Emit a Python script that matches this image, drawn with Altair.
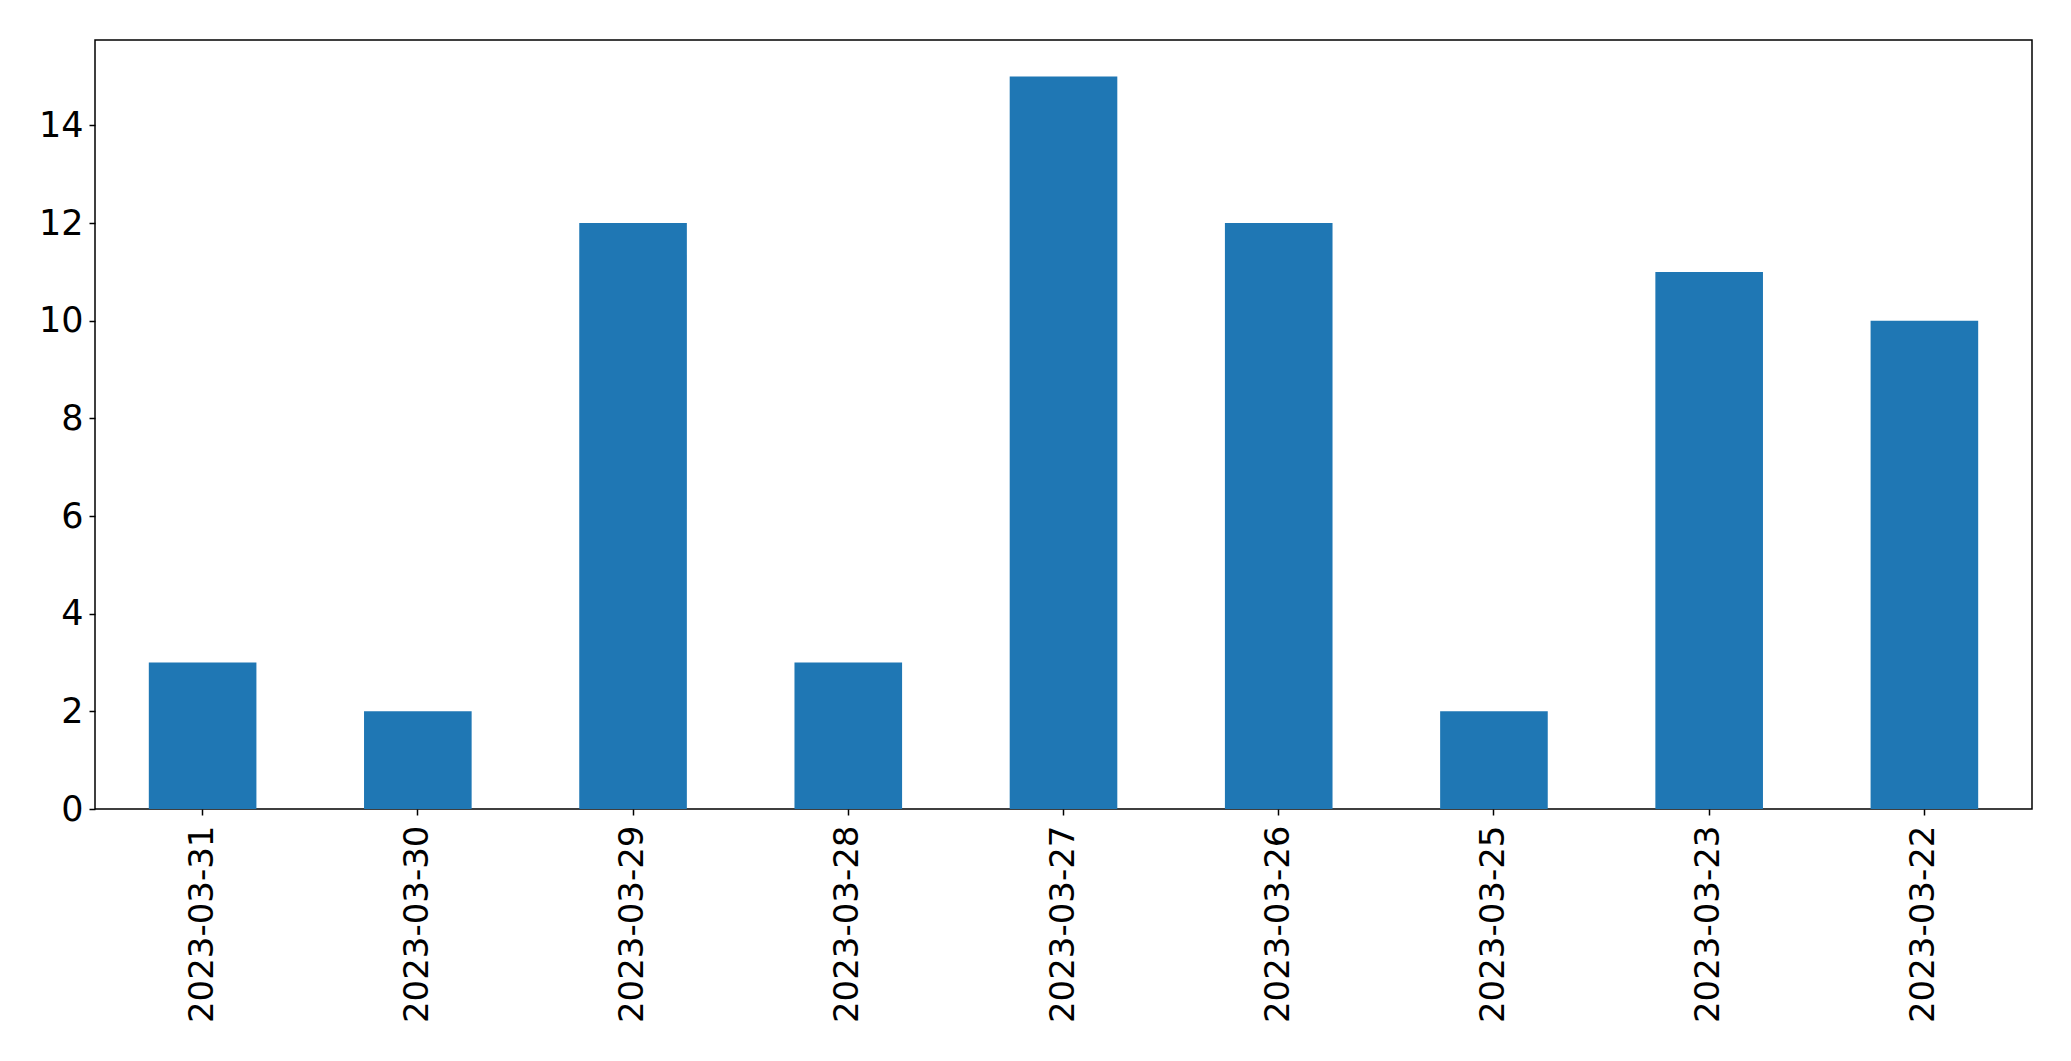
import altair as alt
import pandas as pd

dates = ["2023-03-31", "2023-03-30", "2023-03-29", "2023-03-28", "2023-03-27",
         "2023-03-26", "2023-03-25", "2023-03-23", "2023-03-22"]
counts = [3, 2, 12, 3, 15, 12, 2, 11, 10]
y_ticks = [0, 2, 4, 6, 8, 10, 12, 14]

df = pd.DataFrame({"date": dates, "count": counts})

FONT = "DejaVu Sans"

chart = alt.Chart(df).mark_bar(color="#1f77b4").encode(
    x=alt.X("date:N", sort=None, title=None,
            scale=alt.Scale(paddingInner=0.5, paddingOuter=0.25),
            axis=alt.Axis(labelAngle=270, labelFontSize=34, labelFont=FONT,
                          labelColor="black", tickColor="black", tickSize=6,
                          tickWidth=1.5, labelPadding=10, domain=False,
                          labelLimit=0)),
    y=alt.Y("count:Q", title=None,
            scale=alt.Scale(domain=[0, 15.75], nice=False),
            axis=alt.Axis(values=y_ticks, labelFontSize=35, labelFont=FONT,
                          labelColor="black", tickColor="black", tickSize=6,
                          tickWidth=1.5, labelPadding=6, grid=False, domain=False)),
).properties(
    width=1937, height=769,
    padding={"left": 30, "top": 32, "right": 5, "bottom": 5},
).configure_view(
    stroke="black", strokeWidth=1.5
)

chart.save("out.html", embed_options={"renderer": "svg", "actions": False})
